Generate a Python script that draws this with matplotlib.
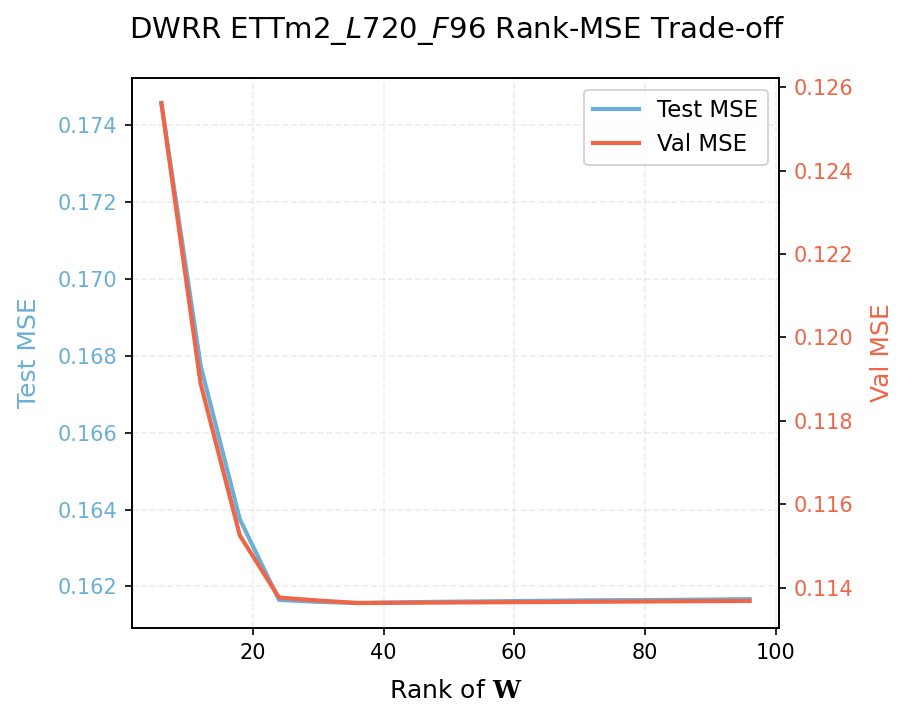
import matplotlib
matplotlib.use("Agg")
import matplotlib.pyplot as plt

plt.rcParams['mathtext.fontset'] = 'custom'
plt.rcParams['mathtext.rm'] = 'DejaVu Sans'
plt.rcParams['mathtext.it'] = 'DejaVu Sans:italic'
plt.rcParams['mathtext.bf'] = 'DejaVu Serif:bold'

ranks = [6, 12, 18, 24, 30, 36, 48, 60, 72, 84, 96]
test_mse = [0.17458, 0.16775, 0.16375, 0.16165, 0.16160, 0.16157, 0.16160, 0.16162, 0.16164, 0.16165, 0.16167]
val_mse = [0.12562, 0.11889, 0.11525, 0.11376, 0.11369, 0.11363, 0.11364, 0.11365, 0.11366, 0.11367, 0.11368]

blue = '#6BAED6'
red = '#EF6548'

fig = plt.figure(figsize=(914/150, 723/150), dpi=150)
ax = fig.add_axes([0.1444, 0.1314, 0.7079, 0.7606])
ax2 = ax.twinx()

l1, = ax.plot(ranks, test_mse, color=blue, lw=2, label='Test MSE')
l2, = ax2.plot(ranks, val_mse, color=red, lw=2, label='Val MSE')

ax.grid(True, linestyle='--', alpha=0.22)
ax.set_xlabel(r'Rank of $\mathbf{W}$', fontsize=12, labelpad=8)
ax.set_ylabel('Test MSE', color=blue, fontsize=12, labelpad=8)
ax2.set_ylabel('Val MSE', color=red, fontsize=12, labelpad=8)
ax.tick_params(axis='y', labelcolor=blue)
ax2.tick_params(axis='y', labelcolor=red)
ax.set_yticks([0.162, 0.164, 0.166, 0.168, 0.170, 0.172, 0.174])
ax2.set_yticks([0.114, 0.116, 0.118, 0.120, 0.122, 0.124, 0.126])
ax.set_xticks([20, 40, 60, 80, 100])

ax.legend([l1, l2], ['Test MSE', 'Val MSE'], loc='upper right', fontsize=11)
fig.suptitle('DWRR ETTm2_$L$720_$F$96 Rank-MSE Trade-off', fontsize=14, y=0.98)

fig.savefig('out.png', dpi=150)
